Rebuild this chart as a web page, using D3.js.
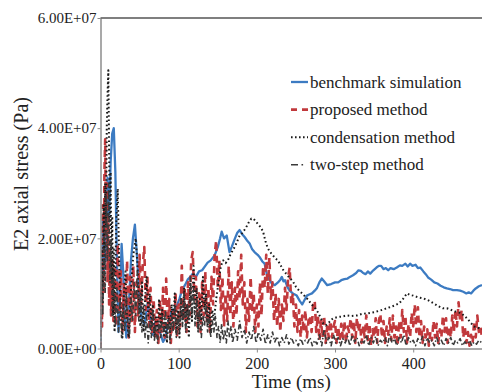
<!DOCTYPE html>
<html>
<head>
<meta charset="utf-8">
<script src="https://cdn.jsdelivr.net/npm/d3@7"></script>
<style>
  body { margin: 0; background: #fff; }
  svg { display: block; }
  svg text { font-family: "Liberation Serif", "Times New Roman", serif !important; fill: #222; }
</style>
</head>
<body>
<svg id="chart" width="482" height="392"></svg>
<script>
// time (ms), E2 axial stress (x1e7 Pa)
var benchmark = [[0,0],[1.5,0.9],[3,2.3],[4.5,1.3],[6,2.6],[7.5,1.6],[9,3.1],[11,2.4],[13,3.4],[15,3.9],[17,4.0],[19,3.2],[21,1.6],[23,0.3],[25,0.9],[27,1.9],[29,1.4],[31,0.6],[33,0.2],[36,0.7],[39,1.6],[41.5,2.0],[44,2.25],[47,1.6],[50,0.9],[53,0.5],[56.5,0.45],[60,0.8],[63,0.6],[66.5,0.25],[69,0.45],[72,0.5],[76,0.3],[80,0.12],[83,0.2],[86,0.45],[89,0.6],[93,0.7],[97,0.75],[101,0.9],[104,1.05],[108,1.15],[111.5,1.25],[115,1.3],[118,1.36],[122,1.3],[126,1.4],[130,1.42],[134,1.5],[137,1.56],[141,1.6],[146,1.69],[150,1.84],[153,2.0],[155,2.12],[158,2.0],[161.5,2.05],[165,1.75],[168,1.85],[172,2.0],[175,2.1],[178,2.15],[181,2.08],[184.6,2.02],[188,1.95],[191,1.9],[194,1.8],[197,1.75],[201,1.7],[204,1.65],[207,1.58],[210,1.54],[213,1.33],[216,1.25],[219,1.18],[223,1.15],[227,1.2],[230,1.25],[232,1.3],[234,1.22],[236,1.24],[239,1.12],[242,1.05],[246,1.0],[251,0.96],[255,0.86],[258,0.8],[261,0.88],[264,0.96],[267,0.98],[270.5,1.0],[274,1.05],[277,1.1],[280,1.2],[283,1.27],[286,1.22],[290,1.15],[295,1.17],[300,1.2],[304,1.2],[308,1.24],[312,1.26],[316,1.27],[319,1.3],[323,1.33],[327,1.37],[330,1.42],[333,1.41],[336,1.37],[339,1.35],[342,1.4],[345,1.36],[349,1.42],[353,1.47],[356,1.5],[359,1.5],[362,1.44],[365,1.46],[368,1.42],[371,1.46],[375,1.44],[379,1.47],[383,1.51],[386,1.5],[390,1.54],[393,1.49],[396,1.54],[399,1.5],[403,1.52],[406,1.46],[409,1.47],[413,1.4],[416,1.35],[419,1.29],[423,1.25],[427,1.2],[431,1.18],[435,1.14],[439,1.11],[443,1.09],[447,1.08],[451,1.06],[456,1.06],[460,1.05],[464,1.03],[468,1.0],[471,1.02],[474,1.0],[477,1.05],[480,1.09],[484,1.13],[488,1.15]];

var proposed = [[0,0],[1,1.2],[2,0.4],[3,2.6],[4,1.0],[5,3.2],[6,3.8],[7,2.0],[8,3.0],[9,1.2],[10,2.4],[11,0.8],[12,1.8],[13.5,0.6],[15,1.6],[16.5,0.5],[18,1.5],[20,0.4],[22,1.9],[24,0.7],[26,1.4],[28,0.3],[30,1.2],[32,0.5],[34,1.6],[36,0.2],[38,1.3],[40,0.5],[42,1.5],[44,0.3],[46,1.2],[48,0.6],[50,1.7],[52,0.8],[54,1.5],[56,1.84],[58,0.7],[60,1.3],[62,0.4],[64,1.1],[66,0.3],[68,0.9],[70,0.2],[72,0.7],[74,0.1],[76,0.9],[78,0.3],[80,1.1],[82,0.2],[84,1.27],[86,0.4],[88,0.9],[90,0.1],[92,0.7],[94,0.3],[96,1.0],[98,0.2],[100,0.8],[102,0.4],[104,1.5],[106,0.5],[108,1.1],[110,0.3],[112,1.2],[114,0.6],[116,1.6],[118,1.75],[120,0.9],[122,1.3],[124,0.4],[126,1.0],[128,0.3],[130,1.2],[132,0.6],[134,1.4],[136,0.5],[138,1.1],[140,0.3],[142,1.3],[144,0.8],[146,1.7],[148,1.96],[150,1.1],[152,1.6],[154,0.7],[156,1.3],[158,0.4],[160,1.0],[162,0.5],[164,1.5],[166,0.6],[168,1.2],[170,0.4],[172,1.1],[174,0.6],[176,1.4],[178,0.9],[180,1.7],[182,0.8],[184,1.2],[186,0.3],[188,0.9],[190,0.5],[192,1.3],[194,0.7],[196,1.0],[198,0.3],[200,0.8],[202,0.4],[204,1.2],[206,0.6],[208,1.5],[210,1.1],[212,1.7],[214,1.0],[216,1.65],[218,0.9],[220,1.2],[222,0.5],[224,1.0],[226,0.4],[228,0.9],[230,0.3],[232,0.8],[234,0.5],[236,1.1],[238,0.7],[240,1.3],[242,1.47],[244,0.8],[246,1.0],[248,0.4],[250,0.8],[252,0.3],[254,0.7],[256,0.2],[258,0.6],[260,0.3],[262,0.7],[264,0.2],[266,0.5],[268,0.6],[270,0.3],[272,0.8],[274,0.87],[276,0.3],[278,0.6],[280,0.15],[282,0.5],[284,0.2],[286,0.6],[288,0.1],[290,0.4],[292,0.2],[294,0.5],[296,0.2],[298,0.4],[300,0.5],[302,0.1],[304,0.4],[306,0.15],[308,0.45],[310,0.2],[312,0.5],[314,0.1],[316,0.4],[318,0.3],[320,0.55],[322,0.2],[324,0.5],[326,0.1],[328,0.56],[330,0.3],[332,0.45],[334,0.1],[336,0.4],[338,0.2],[340,0.6],[342,0.15],[344,0.45],[346,0.05],[348,0.35],[350,0.2],[352,0.55],[354,0.1],[356,0.5],[358,0.63],[360,0.2],[362,0.5],[364,0.1],[366,0.4],[368,0.25],[370,0.55],[372,0.15],[374,0.6],[376,0.2],[378,0.4],[380,0.05],[382,0.5],[384,0.2],[386,0.7],[388,0.3],[390,0.6],[392,0.1],[394,0.45],[396,0.2],[398,0.65],[400,0.4],[402,0.8],[404,0.3],[406,0.75],[408,0.2],[410,0.5],[412,0.1],[414,0.4],[416,0.2],[418,0.35],[420,0.05],[422,0.3],[424,0.15],[426,0.5],[428,0.2],[430,0.45],[432,0.1],[434,0.35],[436,0.2],[438,0.6],[440,0.3],[442,0.55],[444,0.1],[446,0.4],[448,0.2],[450,0.6],[452,0.3],[454,0.7],[456,0.4],[458,0.84],[460,0.5],[462,0.7],[464,0.2],[466,0.4],[468,0.1],[470,0.3],[472,0.05],[474,0.25],[476,0.1],[478,0.5],[480,0.2],[482,0.6],[484,0.3],[486,0.4],[488,0.2]];

var condensation = [[0,0],[1,0.6],[2,1.8],[3,0.8],[4,2.6],[5,1.5],[6,3.0],[7,2.2],[8,4.0],[9,4.6],[10,5.05],[11,3.6],[12,2.2],[13,3.2],[14,1.2],[15,2.4],[16,0.6],[17,1.8],[18,0.3],[20,2.2],[22,2.9],[24,1.5],[26,0.6],[28,0.2],[30,1.0],[32,1.4],[34,0.5],[36,0.2],[38,0.8],[40,1.3],[42,1.7],[45,2.0],[47,1.6],[49,0.9],[51,0.4],[53,1.2],[55,0.3],[57,0.9],[59,1.3],[61,0.6],[63,1.0],[65,0.4],[67,0.8],[69,0.2],[71,0.6],[73,0.3],[75,0.9],[77,0.4],[79,0.7],[81,0.2],[83,0.5],[85,0.1],[87,0.6],[89,0.3],[91,0.8],[93,0.4],[95,1.0],[97,0.3],[99,0.7],[101,0.2],[103,0.9],[105,0.5],[107,1.1],[109,0.4],[111,0.8],[113,0.2],[115,1.2],[117,0.5],[119,1.5],[121,0.7],[123,1.1],[125,0.3],[127,0.9],[129,0.5],[131,1.3],[133,0.7],[135,1.0],[137,0.4],[139,0.8],[141,0.3],[143,0.7],[145,0.5],[148,0.9],[151,1.2],[154,1.5],[157,1.6],[160,1.55],[163,1.6],[166,1.7],[169,1.78],[172,1.85],[175,1.95],[178,2.05],[181,2.09],[184,2.15],[187,2.22],[190,2.3],[193,2.36],[196,2.35],[199,2.3],[202,2.25],[205,2.2],[208,2.12],[211,1.95],[214,1.82],[217,1.75],[220,1.7],[224,1.63],[227,1.6],[230,1.52],[234,1.42],[238,1.35],[242,1.28],[246,1.22],[250,1.12],[254,1.05],[258,1.0],[262,0.94],[266,0.88],[270,0.8],[274,0.74],[278,0.66],[282,0.55],[285,0.45],[288,0.42],[291,0.45],[295,0.52],[298,0.55],[303,0.57],[309,0.58],[315,0.6],[321,0.59],[328,0.6],[335,0.63],[342,0.64],[350,0.66],[358,0.69],[364,0.72],[370,0.75],[376,0.78],[382,0.82],[387,0.9],[392,1.0],[396,0.97],[400,0.96],[406,0.93],[413,0.91],[420,0.87],[426,0.82],[432,0.77],[438,0.73],[443,0.73],[447,0.71],[452,0.68],[456,0.66],[460,0.65],[465,0.6],[470,0.53],[474,0.46],[478,0.4],[482,0.38],[486,0.36],[488,0.35]];

var twoStep = [[0,0],[1.5,1.4],[3,0.6],[4.5,2.2],[6,1.0],[7.5,2.8],[9,1.6],[10.5,3.0],[12,1.2],[13.5,2.0],[15,0.6],[17,1.4],[19,0.4],[21,1.1],[23,0.3],[25,0.9],[27,0.2],[29,0.8],[31,0.3],[33,1.0],[35,0.4],[37,0.2],[39,0.9],[41,0.5],[43,1.2],[45,0.6],[47,1.4],[49,0.5],[51,1.0],[53,0.3],[55,0.8],[57,0.2],[59,0.6],[61,0.1],[63,0.5],[65,0.2],[67,0.7],[69,0.15],[71,0.4],[73,0.1],[75,0.5],[77,0.2],[79,0.6],[81,0.25],[83,0.7],[85,0.2],[87,0.5],[89,0.1],[91,0.6],[93,0.3],[95,0.8],[97,0.2],[99,0.6],[101,0.3],[103,0.9],[105,0.4],[107,1.0],[109,0.3],[111,0.8],[113,0.5],[115,1.3],[117,0.6],[119,1.1],[121,0.4],[123,0.9],[125,0.3],[127,0.7],[129,0.2],[131,0.6],[133,0.4],[135,0.8],[137,0.3],[139,0.6],[141,0.2],[143,0.5],[145,0.3],[147,0.6],[149,0.2],[151,0.4],[153,0.1],[155,0.45],[157,0.15],[159,0.35],[161,0.1],[163,0.5],[165,0.2],[167,0.4],[169,0.1],[172,0.35],[175,0.15],[178,0.5],[181,0.2],[184,0.35],[187,0.1],[190,0.3],[193,0.15],[196,0.4],[199,0.1],[202,0.3],[205,0.15],[208,0.35],[211,0.08],[214,0.25],[217,0.1],[220,0.3],[223,0.12],[226,0.22],[229,0.05],[232,0.2],[235,0.1],[238,0.25],[241,0.08],[244,0.2],[247,0.1],[250,0.15],[253,0.05],[256,0.18],[259,0.08],[262,0.15],[265,0.1],[268,0.2],[271,0.05],[274,0.15],[277,0.08],[280,0.25],[283,0.05],[286,0.35],[289,0.1],[292,0.2],[295,0.05],[298,0.25],[301,0.1],[304,0.2],[307,0.05],[310,0.18],[313,0.1],[316,0.22],[319,0.05],[322,0.25],[325,0.12],[328,0.2],[331,0.05],[334,0.15],[337,0.1],[340,0.25],[343,0.05],[346,0.2],[349,0.1],[352,0.22],[355,0.05],[358,0.15],[361,0.1],[364,0.2],[367,0.05],[370,0.25],[373,0.1],[376,0.18],[379,0.05],[382,0.2],[385,0.1],[388,0.25],[391,0.05],[394,0.2],[397,0.1],[400,0.15],[403,0.05],[406,0.18],[409,0.1],[412,0.22],[415,0.05],[418,0.2],[421,0.1],[424,0.15],[427,0.05],[430,0.2],[433,0.08],[436,0.15],[439,0.05],[442,0.18],[445,0.1],[448,0.2],[451,0.05],[454,0.15],[457,0.1],[460,0.18],[463,0.05],[466,0.12],[469,0.08],[472,0.15],[475,0.05],[478,0.12],[481,0.08],[484,0.15],[488,0.1]];

var xTicks = [0, 100, 200, 300, 400];
var yTicks = [0, 2e7, 4e7, 6e7];
var seriesNames = ["benchmark simulation", "proposed method", "condensation method", "two-step method"];

var svg = d3.select("#chart"),
    plotLeft = 100.5, plotRight = 482, plotTop = 18, plotBottom = 348.5;

var x = d3.scaleLinear().domain([0, 488]).range([plotLeft, plotRight]);
var y = d3.scaleLinear().domain([0, 6e7]).range([plotBottom, plotTop]);

var styles = [
  { data: benchmark,    color: "#3c7bc2", width: 2.3, dash: null,            legendDash: null },
  { data: proposed,     color: "#c1393c", width: 2.6, dash: "7,5",           legendDash: "6,5" },
  { data: condensation, color: "#1a1a1a", width: 2,   dash: "1.6,2.6",       legendDash: "1.6,2.4" },
  { data: twoStep,      color: "#3a3a3a", width: 1.6, dash: "5,2.5,1.5,2.5", legendDash: "7,3.5,1.6,10" }
];

svg.append("clipPath").attr("id", "clip")
  .append("rect").attr("x", plotLeft).attr("y", plotTop)
  .attr("width", plotRight - plotLeft).attr("height", plotBottom - plotTop);

var line = d3.line()
  .x(function(d) { return x(d[0]); })
  .y(function(d) { return y(d[1] * 1e7); });

var plot = svg.append("g").attr("clip-path", "url(#clip)");
styles.forEach(function(s) {
  plot.append("path")
    .attr("d", line(s.data))
    .attr("fill", "none")
    .attr("stroke", s.color)
    .attr("stroke-width", s.width)
    .attr("stroke-linejoin", "round")
    .attr("stroke-dasharray", s.dash);
});

// axes
var xAxis = svg.append("g")
  .attr("transform", "translate(0," + plotBottom + ")")
  .call(d3.axisBottom(x).tickValues(xTicks).tickSize(4).tickSizeOuter(0).tickPadding(5));
xAxis.select(".domain").attr("stroke", "#8c8c8c").attr("stroke-width", 1.5);
xAxis.selectAll(".tick line").attr("stroke", "#8c8c8c");
xAxis.selectAll(".tick text").style("font-size", "16px");

var yAxis = svg.append("g")
  .attr("transform", "translate(" + plotLeft + ",0)")
  .call(d3.axisLeft(y).tickValues(yTicks).tickSize(3).tickSizeOuter(0).tickPadding(1)
    .tickFormat(function(d) { return d3.format(".2e")(d).replace("e", "E").replace(/E([+-])(\d)$/, "E$10$2"); }));
yAxis.select(".domain").attr("stroke", "#8c8c8c").attr("stroke-width", 1.5);
yAxis.selectAll(".tick line").attr("stroke", "#8c8c8c");
yAxis.selectAll(".tick text").style("font-size", "15px");

svg.append("line")
  .attr("x1", plotLeft).attr("x2", plotRight).attr("y1", plotTop).attr("y2", plotTop)
  .attr("stroke", "#555").attr("stroke-width", 1.5);

svg.append("text")
  .attr("x", (plotLeft + plotRight) / 2).attr("y", 388)
  .attr("text-anchor", "middle").style("font-size", "19px")
  .text("Time (ms)");

svg.append("text")
  .attr("transform", "translate(28,174) rotate(-90)")
  .attr("text-anchor", "middle").style("font-size", "20px")
  .text("E2 axial stress (Pa)");

// legend
var legend = svg.append("g").attr("transform", "translate(291,82)");
seriesNames.forEach(function(name, i) {
  var s = styles[i], row = legend.append("g").attr("transform", "translate(0," + i * 27.6 + ")");
  row.append("line")
    .attr("x1", 0).attr("x2", 17).attr("y1", 0).attr("y2", 0)
    .attr("stroke", s.color).attr("stroke-width", s.width)
    .attr("stroke-dasharray", s.legendDash);
  row.append("text")
    .attr("x", 19).attr("y", 5.5)
    .style("font-size", "17px")
    .text(name);
});
</script>
</body>
</html>
